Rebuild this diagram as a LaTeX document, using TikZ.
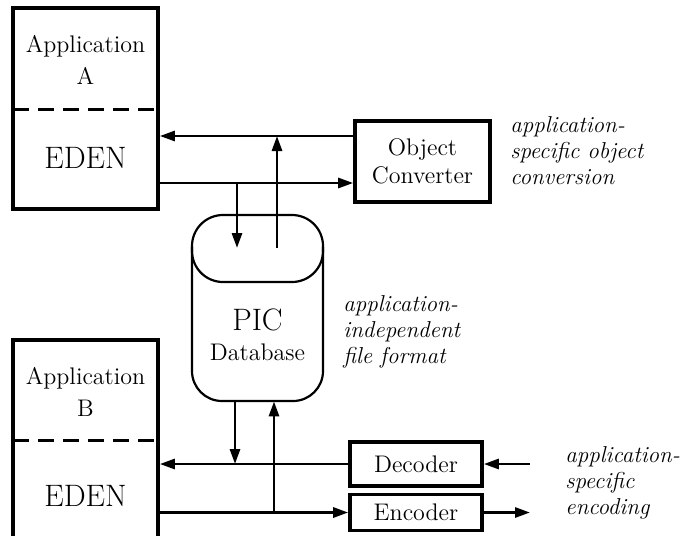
\documentclass[tikz,border=0pt]{standalone}
\usetikzlibrary{arrows.meta}
\begin{document}
\begin{tikzpicture}[x=0.5pt, y=-0.5pt,
    box/.style={draw, line width=1.8pt, rectangle, inner sep=0pt},
    flow/.style={line width=1.4pt, -{Triangle[length=7.5pt, width=5pt]}},
    sep/.style={line width=1.5pt, dash pattern=on 8pt off 4.5pt},
    cyl/.style={line width=1.1pt},
    txt/.style={font=\fontsize{12}{16}\selectfont, align=center},
    big/.style={font=\fontsize{15.5}{18}\selectfont},
    note/.style={font=\fontsize{11.5}{13}\selectfont\itshape, align=left, anchor=west, inner sep=0pt}]
  \useasboundingbox (0,0) rectangle (688,535);
  \clip (0,0) rectangle (688,535);

  % application A
  \node[box, minimum width=72.5pt, minimum height=100.5pt] (appA) at (85.5,108.5) {};
  \node[txt] (nameA) at (85.5,60) {Application\\A};
  \node[big, anchor=base] (edenA) at (85.5,168) {EDEN};
  \draw[sep] (13,109) -- (158,109);

  % application B (runs off the page)
  \node[box, minimum width=72.5pt, minimum height=150pt] (appB) at (85.5,490) {};
  \node[txt] (nameB) at (85.5,392) {Application\\B};
  \node[big, anchor=base] (edenB) at (85.5,506) {EDEN};
  \draw[sep] (13,440) -- (158,440);

  % converters
  \node[box, font=\fontsize{12}{14}\selectfont, align=center,
        minimum width=67.5pt, minimum height=40.5pt] (conv) at (422.5,161.5) {Object\\Converter};
  \node[box, txt, minimum width=66pt, minimum height=22pt] (dec) at (416,464) {Decoder};
  \node[box, txt, minimum width=66pt, minimum height=18pt] (enc) at (416,512.5) {Encoder};

  % PIC database
  \node[minimum width=65.5pt, minimum height=93pt, inner sep=0pt] (pic) at (257.5,308) {};
  \draw[cyl, rounded corners=15pt] (192,247) -- (192,401) -- (323,401) -- (323,247);
  \draw[cyl, rounded corners=15.5pt] (192,215) rectangle (323,282);
  \node[big, anchor=base] (picname) at (257.5,330) {PIC};
  \node[txt, anchor=base] (dbname) at (257.5,360) {Database};

  \coordinate (cap) at (257.5,248);
  \coordinate (upA) at (277,136);
  \coordinate (downA) at (237,183);
  \coordinate (downB) at (235,464);
  \coordinate (upB) at (274,512.5);
  \coordinate (decIn) at (530,464);
  \coordinate (encOut) at (530,512.5);

  \draw[flow] (conv.west |- upA) -- (appA.east |- upA);
  \draw[flow] (appA.east |- downA) -- (conv.west |- downA);
  \draw[flow] (downA) -- (downA |- cap);
  \draw[flow] (upA |- cap) -- (upA);

  \draw[flow] (dec.west) -- (appB.east |- dec.west);
  \draw[flow] (appB.east |- enc.west) -- (enc.west);
  \draw[flow] (downB |- pic.south) -- (downB);
  \draw[flow] (upB) -- (upB |- pic.south);
  \draw[flow] (decIn) -- (dec.east);
  \draw[flow] (enc.east) -- (encOut);

  % notes
  \node[note] (noteConv) at (510,150.5) {application-\\specific object\\conversion};
  \node[note] (noteFile) at (343,331.5) {application-\\independent\\file format};
  \node[note] (noteCode) at (565,482.5) {application-\\specific\\encoding};
\end{tikzpicture}
\end{document}
